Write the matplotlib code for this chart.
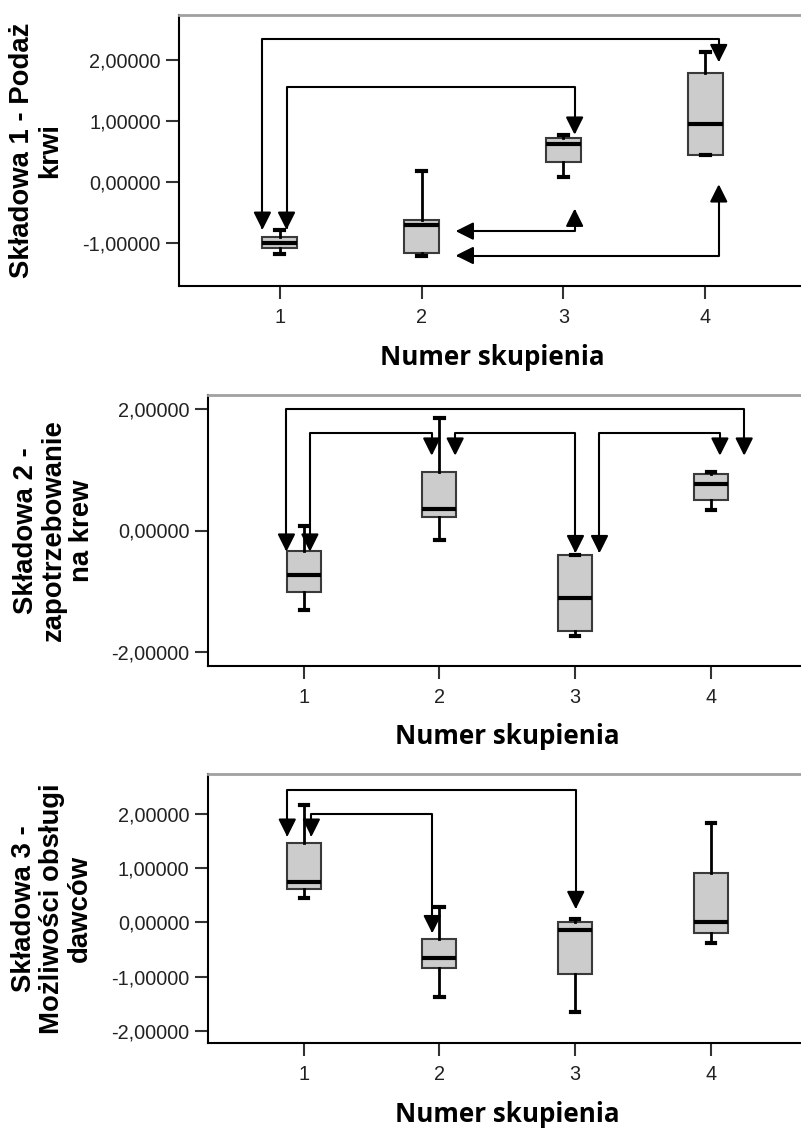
import matplotlib.pyplot as plt
from matplotlib.patches import FancyArrowPatch
from matplotlib.path import Path

W, H = 801, 1129

groups = [1, 2, 3, 4]
xlabel = 'Numer skupienia'
ylabels = ['Składowa 1 - Podaż\nkrwi',
           'Składowa 2 -\nzapotrzebowanie\nna krew',
           'Składowa 3 -\nMożliwości obsługi\ndawców']

# box statistics per component: whisker low, Q1, median, Q3, whisker high
s1_low = [-1.19, -1.22, 0.07, 0.44]
s1_q1 = [-1.09, -1.17, 0.33, 0.44]
s1_med = [-1.01, -0.71, 0.62, 0.95]
s1_q3 = [-0.91, -0.63, 0.71, 1.78]
s1_high = [-0.79, 0.17, 0.77, 2.12]

s2_low = [-1.31, -0.15, -1.73, 0.34]
s2_q1 = [-1.02, 0.22, -1.66, 0.50]
s2_med = [-0.73, 0.36, -1.11, 0.77]
s2_q3 = [-0.33, 0.97, -0.40, 0.93]
s2_high = [0.07, 1.85, -0.40, 0.97]

s3_low = [0.46, -1.37, -1.66, -0.37]
s3_q1 = [0.61, -0.84, -0.95, -0.20]
s3_med = [0.75, -0.66, -0.13, 0.01]
s3_q3 = [1.46, -0.31, 0.01, 0.92]
s3_high = [2.16, 0.29, 0.055, 1.83]

yticks = [[-1, 0, 1, 2], [-2, 0, 2], [-2, -1, 0, 1, 2]]
ylims = [(-1.71, 2.74), (-2.23, 2.23), (-2.23, 2.74)]

# bracket connectors between groups (arrowheads at both ends)
links1 = [[(0.878, -0.79), (0.878, 2.34), (4.095, 2.34), (4.095, 1.96)],
          [(1.048, -0.79), (1.048, 1.55), (3.079, 1.55), (3.079, 0.77)],
          [(2.24, -0.81), (3.079, -0.81), (3.079, -0.44)],
          [(2.24, -1.21), (4.095, -1.21), (4.095, -0.04)]]
links2 = [[(0.872, -0.35), (0.872, 2.0), (4.247, 2.0), (4.247, 1.23)],
          [(1.045, -0.35), (1.045, 1.61), (1.943, 1.61), (1.943, 1.23)],
          [(2.116, 1.23), (2.116, 1.61), (3.003, 1.61), (3.003, -0.375)],
          [(3.18, -0.375), (3.18, 1.61), (4.068, 1.61), (4.068, 1.23)]]
links3 = [[(0.878, 1.58), (0.878, 2.45), (3.005, 2.45), (3.005, 0.245)],
          [(1.056, 1.58), (1.056, 2.0), (1.947, 2.0), (1.947, -0.20)]]

stats = [(s1_low, s1_q1, s1_med, s1_q3, s1_high),
         (s2_low, s2_q1, s2_med, s2_q3, s2_high),
         (s3_low, s3_q1, s3_med, s3_q3, s3_high)]
links = [links1, links2, links3]

# axes boxes in pixels: left, top, right, bottom
frames = [(179, 14.7, 806, 286), (207.5, 395, 807, 666), (207.5, 774, 807, 1043.3)]
ylabel_x = [36, 54, 52]

tick_font = ['Liberation Sans', 'DejaVu Sans']

fig = plt.figure(figsize=(W / 100, H / 100), dpi=100)

for k in range(3):
    l, t, r, b = frames[k]
    ax = fig.add_axes([l / W, (H - b) / H, (r - l) / W, (b - t) / H])
    low, q1, med, q3, high = stats[k]
    bstats = [dict(whislo=low[i], q1=q1[i], med=med[i], q3=q3[i], whishi=high[i], fliers=[])
              for i in range(len(groups))]
    ax.bxp(bstats, positions=groups, widths=0.25, patch_artist=True, showfliers=False,
           capwidths=0.06,
           boxprops=dict(facecolor='#cccccc', edgecolor='#3a3a3a', linewidth=1.5),
           medianprops=dict(color='black', linewidth=3),
           whiskerprops=dict(color='black', linewidth=2),
           capprops=dict(color='black', linewidth=3))

    for pts in links[k]:
        arr = FancyArrowPatch(path=Path(pts), arrowstyle='<|-|>,head_length=0.4,head_width=0.2',
                              mutation_scale=27, lw=1.5, color='black', zorder=5)
        ax.add_patch(arr)

    ax.set_xlim(0.29, 4.71)
    ax.set_ylim(*ylims[k])
    ax.set_xticks(groups)
    ax.set_xticklabels([str(g) for g in groups])
    ax.set_yticks(yticks[k])
    ax.set_yticklabels([f'{v:.5f}'.replace('.', ',') for v in yticks[k]])
    ax.tick_params(length=9.5, width=1.5, color='#333333', labelcolor='#222222', labelsize=14.3)
    ax.tick_params(axis='y', pad=3.6)
    ax.tick_params(axis='x', pad=6)
    for lab in ax.get_xticklabels() + ax.get_yticklabels():
        lab.set_family(tick_font)

    for side in ['left', 'bottom']:
        ax.spines[side].set_color('black')
        ax.spines[side].set_linewidth(1.5)
    ax.spines['top'].set_color('#a0a0a0')
    ax.spines['top'].set_linewidth(2)
    ax.spines['right'].set_visible(False)

    fig.text((l + r) / 2 / W, 1 - (b + 71) / H, xlabel, ha='center', va='center',
             family=['Open Sans', 'DejaVu Sans'], fontweight='bold', fontsize=18.7)
    fig.text(ylabel_x[k] / W, 1 - (t + b) / 2 / H, ylabels[k], rotation=90, ha='center',
             va='center', multialignment='center', linespacing=1.1,
             family=['Liberation Sans', 'DejaVu Sans'], fontweight='bold', fontsize=19.8)

fig.savefig('out.png', dpi=100)
